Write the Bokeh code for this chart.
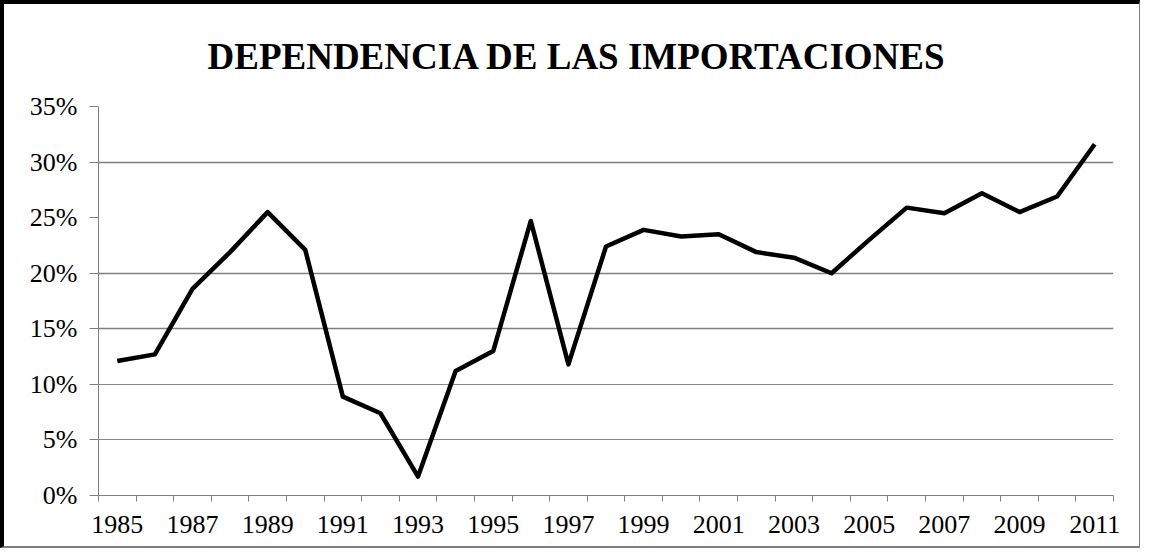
from bokeh.plotting import figure
from bokeh.models import FixedTicker, PrintfTickFormatter, Range1d, Grid, ColumnDataSource
from bokeh.embed import file_html
from bokeh.resources import INLINE

# ---- data ----
years = list(range(1985, 2012))
dependencia = [12.1, 12.7, 18.6, 21.9, 25.5, 22.1, 8.9, 7.4, 1.7, 11.2,
               13.0, 24.7, 11.8, 22.4, 23.9, 23.3, 23.5, 21.9, 21.4, 20.0,
               23.0, 25.9, 25.4, 27.2, 25.5, 26.9, 31.6]
y_ticks = [0, 5, 10, 15, 20, 25, 30, 35]
x_label_years = years[::2]
title_text = "DEPENDENCIA DE LAS IMPORTACIONES"

src = ColumnDataSource(dict(year=years, value=dependencia))

p = figure(frame_width=1015, frame_height=389,
           min_border_left=94, min_border_right=26, min_border_top=100, min_border_bottom=51,
           x_range=Range1d(years[0] - 0.5, years[-1] + 0.5),
           y_range=Range1d(y_ticks[0], y_ticks[-1]),
           output_backend="svg", toolbar_location=None)

p.styles = {"border-left": "4px solid #000000", "border-top": "4px solid #000000",
            "border-right": "1px solid #808080", "border-bottom": "2px solid #808080"}

p.title.text = title_text
p.title.align = "left"
p.title.offset = 109
p.title.text_font = "Liberation Serif"
p.title.text_font_size = "37px"
p.title.text_font_style = "bold"
p.title.text_color = "#000000"
p.title.standoff = 59

p.outline_line_color = None
p.background_fill_color = "white"
p.border_fill_color = "white"

# x axis: labels at every other year, small ticks between categories
p.xaxis.ticker = FixedTicker(ticks=x_label_years,
                             minor_ticks=[y - 0.5 for y in years] + [years[-1] + 0.5])
p.xaxis.axis_line_color = "#808080"
p.xaxis.axis_line_width = 1
p.xaxis.major_tick_out = 0
p.xaxis.major_tick_in = 0
p.xaxis.minor_tick_out = 6
p.xaxis.minor_tick_in = 0
p.xaxis.minor_tick_line_color = "#808080"
p.xaxis.major_label_text_font = "Liberation Serif"
p.xaxis.major_label_text_font_size = "26px"
p.xaxis.major_label_text_color = "#000000"
p.xaxis.major_label_standoff = 14

# y axis
p.yaxis.ticker = FixedTicker(ticks=y_ticks)
p.yaxis.formatter = PrintfTickFormatter(format="%d%%")
p.yaxis.axis_line_color = "#808080"
p.yaxis.major_tick_line_color = "#808080"
p.yaxis.major_tick_out = 9
p.yaxis.major_tick_in = 0
p.yaxis.minor_tick_line_color = None
p.yaxis.major_label_text_font = "Liberation Serif"
p.yaxis.major_label_text_font_size = "26px"
p.yaxis.major_label_text_color = "#000000"
p.yaxis.major_label_standoff = 12

p.xgrid.visible = False
p.ygrid.ticker = FixedTicker(ticks=[15, 20, 30])
p.ygrid.grid_line_color = "#808080"
p.ygrid.grid_line_width = 1.5
p.add_layout(Grid(dimension=1, ticker=FixedTicker(ticks=[5, 10]),
                  grid_line_color="#888888", grid_line_width=1))

p.line("year", "value", source=src, line_color="black", line_width=4.5, line_join="round")

open("out.html", "w").write(file_html(p, INLINE))
